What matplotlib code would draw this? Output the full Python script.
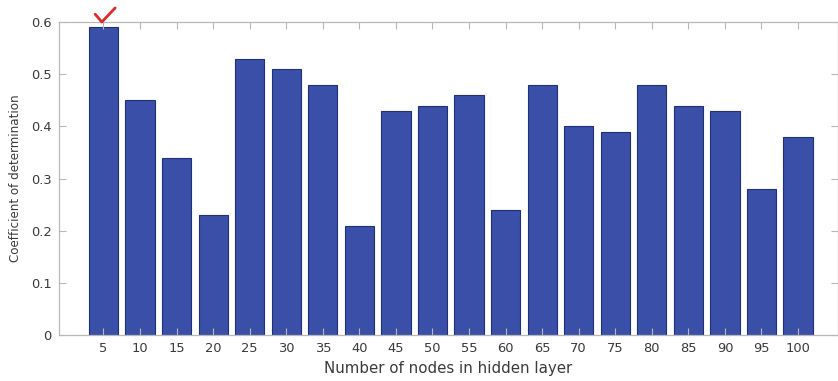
import matplotlib
matplotlib.use("Agg")
import matplotlib.pyplot as plt

# hidden-layer size sweep and resulting R^2
nodes = [5, 10, 15, 20, 25, 30, 35, 40, 45, 50,
         55, 60, 65, 70, 75, 80, 85, 90, 95, 100]
r2 = [0.59, 0.45, 0.34, 0.23, 0.53, 0.51, 0.48, 0.21, 0.43, 0.44,
      0.46, 0.24, 0.48, 0.40, 0.39, 0.48, 0.44, 0.43, 0.28, 0.38]
yticks = [0, 0.1, 0.2, 0.3, 0.4, 0.5, 0.6]
best = nodes[r2.index(max(r2))]

plt.rcParams["font.family"] = ["DejaVu Sans"]

fig = plt.figure(figsize=(8.38, 3.81), dpi=100)
ax = fig.add_axes([58.5 / 838, 45.7 / 381, (837.5 - 58.5) / 838, (335.3 - 22) / 381])

ax.bar(nodes, r2, width=4.0, color="#3a50a8", edgecolor="#1f2f7a", linewidth=0.8)

ax.set_xlim(-1.15, 105.4)
ax.set_ylim(0, 0.6)
ax.set_xticks(nodes)
ax.set_xticklabels([str(n) for n in nodes])
ax.set_yticks(yticks)
ax.set_yticklabels(["0", "0.1", "0.2", "0.3", "0.4", "0.5", "0.6"])

axis_grey = "#b8b8b8"
for s in ax.spines.values():
    s.set_color(axis_grey)
    s.set_linewidth(0.9)
ax.tick_params(direction="in", length=5, width=0.8, color=axis_grey,
               labelsize=9.4, labelcolor="#3a3a3a",
               top=True, right=True, pad=5)

ax.set_xlabel("Number of nodes in hidden layer", fontsize=10.8,
              color="#3a3a3a", labelpad=4)
ax.set_ylabel("Coefficient of determination", fontsize=8.6,
              color="#3a3a3a", labelpad=6)

# red tick mark over the best configuration
ax.plot([best - 1.13, best - 0.22, best + 1.6], [0.615, 0.6, 0.627],
        color="#e0282d", linewidth=2.0, solid_capstyle="round",
        solid_joinstyle="round", clip_on=False, zorder=5)

fig.savefig("out.png", dpi=100)
